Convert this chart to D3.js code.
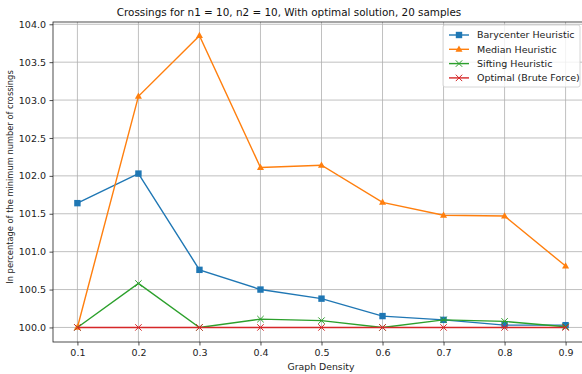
<!DOCTYPE html>
<html>
<head>
<meta charset="utf-8">
<script src="https://cdn.jsdelivr.net/npm/d3@7"></script>
<style>
  body { margin: 0; background: #fff; }
  svg { display: block; font-family: "DejaVu Sans", sans-serif; }
</style>
</head>
<body>
<script>
// Données
var densites = [0.1, 0.2, 0.3, 0.4, 0.5, 0.6, 0.7, 0.8, 0.9];
var barycentre = [101.64, 102.03, 100.76, 100.50, 100.38, 100.15, 100.10, 100.03, 100.03];
var mediane = [100.0, 103.05, 103.85, 102.11, 102.14, 101.65, 101.48, 101.47, 100.81];
var sifting = [100.0, 100.58, 100.0, 100.11, 100.09, 100.0, 100.10, 100.08, 100.01];
var optimal = [100.0, 100.0, 100.0, 100.0, 100.0, 100.0, 100.0, 100.0, 100.0];
var yTicks = [100.0, 100.5, 101.0, 101.5, 102.0, 102.5, 103.0, 103.5, 104.0];

var series = [
  {nom: "Barycenter Heuristic", valeurs: barycentre, couleur: "#1f77b4", marque: "carre"},
  {nom: "Median Heuristic", valeurs: mediane, couleur: "#ff7f0e", marque: "triangle"},
  {nom: "Sifting Heuristic", valeurs: sifting, couleur: "#2ca02c", marque: "croix"},
  {nom: "Optimal (Brute Force)", valeurs: optimal, couleur: "#d62728", marque: "croix"}
];

var W = 582, H = 374;
var margin = {top: 22, right: -8, bottom: 32, left: 53};
var width = W - margin.left - margin.right,
    height = H - margin.top - margin.bottom;

var svg = d3.select("body").append("svg")
    .attr("width", W).attr("height", H);

var g = svg.append("g")
    .attr("transform", `translate(${margin.left},${margin.top})`);

var x = d3.scaleLinear().domain([0.06, 0.94]).range([0, width]);
var y = d3.scaleLinear().domain([99.808, 104.03]).range([height, 0]);

// Grille
g.append("g").selectAll("line").data(densites).join("line")
    .attr("x1", d => x(d)).attr("x2", d => x(d))
    .attr("y1", 0).attr("y2", height)
    .attr("stroke", "#b0b0b0").attr("stroke-width", 0.8);
g.append("g").selectAll("line").data(yTicks).join("line")
    .attr("x1", 0).attr("x2", width)
    .attr("y1", d => y(d)).attr("y2", d => y(d))
    .attr("stroke", "#b0b0b0").attr("stroke-width", 0.8);

// Axes
var axeX = g.append("g")
    .attr("transform", `translate(0,${height})`)
    .call(d3.axisBottom(x).tickValues(densites).tickFormat(d3.format(".1f")).tickSizeOuter(0).tickSize(3.5).tickPadding(3.5));
var axeY = g.append("g")
    .call(d3.axisLeft(y).tickValues(yTicks).tickFormat(d3.format(".1f")).tickSizeOuter(0).tickSize(3.5).tickPadding(3.5));
[axeX, axeY].forEach(a => {
  a.selectAll("text").attr("font-size", 9.5).attr("fill", "#222").attr("font-family", "DejaVu Sans");
  a.selectAll("line").attr("stroke", "#222").attr("stroke-width", 0.8);
  a.select(".domain").remove();
});

// Cadre
g.append("rect").attr("x", 0).attr("y", 0).attr("width", width).attr("height", height)
    .attr("fill", "none").attr("stroke", "#222").attr("stroke-width", 0.8);

// Marqueurs
function dessinerMarque(sel, type, couleur, s) {
  if (type === "carre") {
    sel.append("rect").attr("x", -s).attr("y", -s).attr("width", 2 * s).attr("height", 2 * s)
      .attr("fill", couleur);
  } else if (type === "triangle") {
    sel.append("path").attr("d", `M0,${-s * 1.2}L${s * 1.1},${s * 0.75}L${-s * 1.1},${s * 0.75}Z`)
      .attr("fill", couleur);
  } else {
    sel.append("path").attr("d", `M${-s},${-s}L${s},${s}M${-s},${s}L${s},${-s}`)
      .attr("stroke", couleur).attr("stroke-width", 1).attr("fill", "none");
  }
}

var ligne = d3.line().x((d, i) => x(densites[i])).y(d => y(d));

series.forEach(s => {
  g.append("path").datum(s.valeurs)
    .attr("d", ligne).attr("fill", "none")
    .attr("stroke", s.couleur).attr("stroke-width", 1.4);
  s.valeurs.forEach((v, i) => {
    var m = g.append("g").attr("transform", `translate(${x(densites[i])},${y(v)})`);
    dessinerMarque(m, s.marque, s.couleur, 3.2);
  });
});

// Titre et libellés
svg.append("text").attr("x", 289).attr("y", 16).attr("text-anchor", "middle")
    .attr("font-size", 10.4).attr("fill", "#111")
    .text("Crossings for n1 = 10, n2 = 10, With optimal solution, 20 samples");
svg.append("text").attr("x", 321).attr("y", 370).attr("text-anchor", "middle")
    .attr("font-size", 9.3).attr("fill", "#222").text("Graph Density");
svg.append("text").attr("transform", "translate(13,177) rotate(-90)")
    .attr("text-anchor", "middle").attr("font-size", 8.3).attr("fill", "#222")
    .text("In percentage of the minimum number of crossings");

// Légende
var leg = svg.append("g").attr("transform", "translate(443,25)");
leg.append("rect").attr("width", 137).attr("height", 62).attr("rx", 2)
    .attr("fill", "#fff").attr("fill-opacity", 0.8).attr("stroke", "#ccc").attr("stroke-width", 0.8);
series.forEach((s, i) => {
  var ly = 10 + i * 14.3;
  leg.append("line").attr("x1", 6).attr("x2", 26).attr("y1", ly).attr("y2", ly)
    .attr("stroke", s.couleur).attr("stroke-width", 1.4);
  dessinerMarque(leg.append("g").attr("transform", `translate(16,${ly})`), s.marque, s.couleur, 3.2);
  leg.append("text").attr("x", 34).attr("y", ly).attr("dy", "0.35em")
    .attr("font-size", 9.5).attr("fill", "#222").text(s.nom);
});
</script>
</body>
</html>
